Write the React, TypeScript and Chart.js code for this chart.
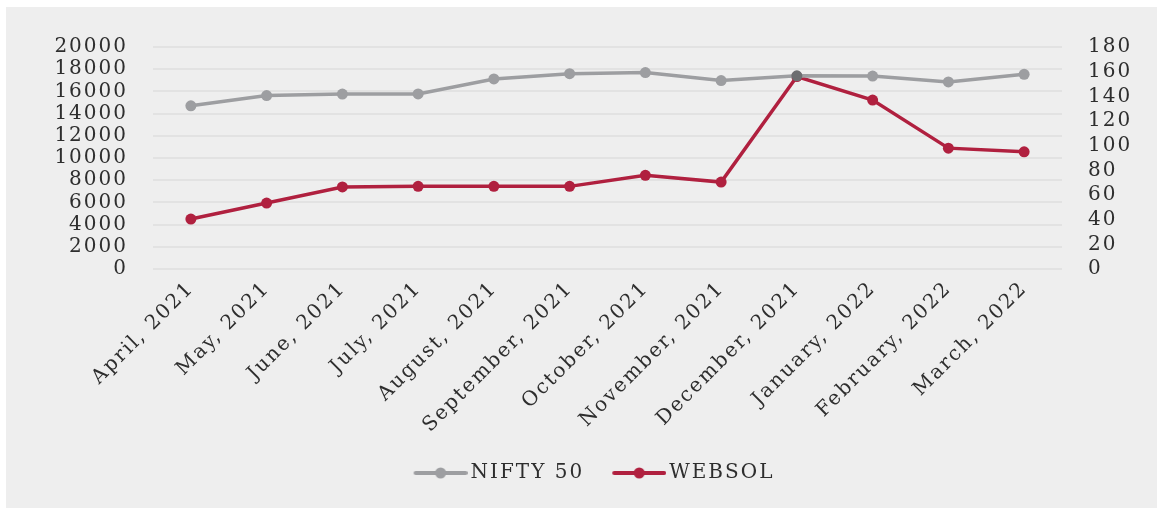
import React, { useEffect, useRef } from 'react';
import { Chart, registerables } from 'chart.js';

Chart.register(...registerables);

const categories = [
  'April, 2021', 'May, 2021', 'June, 2021', 'July, 2021', 'August, 2021', 'September, 2021',
  'October, 2021', 'November, 2021', 'December, 2021', 'January, 2022', 'February, 2022', 'March, 2022',
];
const niftyValues = [14700, 15620, 15760, 15770, 17120, 17600, 17700, 16980, 17400, 17380, 16850, 17540];
const websolValues = [40.5, 53.5, 66.5, 67, 67, 67, 76, 70.5, 156, 137, 98, 95];
const leftTickRange = [0, 20000, 2000];
const rightTickRange = [0, 180, 20];

const GRAY = '#9d9ea1';
const GRAY_DARK = '#6d6e71';
const RED = '#b0203f';
const TEXT = '#2e2e2e';
const FONT = "'DejaVu Serif', serif";

function legendImage(color: string): HTMLCanvasElement {
  const c = document.createElement('canvas');
  c.width = 66;
  c.height = 12;
  const g = c.getContext('2d')!;
  g.strokeStyle = color;
  g.lineWidth = 4;
  g.lineCap = 'round';
  g.beginPath();
  g.moveTo(14, 6);
  g.lineTo(64, 6);
  g.stroke();
  g.fillStyle = color;
  g.beginPath();
  g.arc(39, 6, 5.5, 0, Math.PI * 2);
  g.fill();
  return c;
}

const spacingPlugin = {
  id: 'letterSpacing',
  beforeLayout(chart: any) { (chart.ctx as any).letterSpacing = '2px'; },
  beforeDraw(chart: any) { (chart.ctx as any).letterSpacing = '2px'; },
};

export default function App() {
  const ref = useRef<HTMLCanvasElement | null>(null);
  useEffect(() => {
    if (!ref.current) return;
    const imgs = [legendImage(GRAY), legendImage(RED)];
    const chart = new Chart(ref.current, {
      type: 'line',
      data: {
        labels: categories,
        datasets: [
          {
            label: 'NIFTY 50',
            data: niftyValues,
            yAxisID: 'y',
            borderColor: GRAY,
            backgroundColor: GRAY,
            pointBackgroundColor: niftyValues.map((_, i) => (i === 8 ? GRAY_DARK : GRAY)),
            pointBorderColor: niftyValues.map((_, i) => (i === 8 ? GRAY_DARK : GRAY)),
            borderWidth: 3.5,
            pointRadius: 5.5,
            pointBorderWidth: 0,
            tension: 0,
          },
          {
            label: 'WEBSOL',
            data: websolValues,
            yAxisID: 'y1',
            borderColor: RED,
            backgroundColor: RED,
            pointBackgroundColor: RED,
            pointBorderColor: RED,
            borderWidth: 3.5,
            pointRadius: 5.5,
            pointBorderWidth: 0,
            tension: 0,
          },
        ],
      },
      options: {
        animation: false,
        responsive: true,
        maintainAspectRatio: false,
        layout: { padding: { top: 40, bottom: 15, left: 20, right: 0 } },
        scales: {
          x: {
            offset: true,
            grid: { display: false, drawTicks: false },
            border: { display: false },
            ticks: {
              color: TEXT,
              font: { family: FONT, size: 20 },
              minRotation: 45,
              maxRotation: 45,
              padding: 8,
              autoSkip: false,
            },
            afterFit: (s: any) => { s.height = 171; },
          },
          y: {
            position: 'left',
            min: leftTickRange[0],
            max: leftTickRange[1],
            grid: { color: '#e2e2e2', lineWidth: 2, drawTicks: false },
            border: { display: false },
            ticks: {
              stepSize: leftTickRange[2],
              autoSkip: false,
              color: TEXT,
              font: { family: FONT, size: 20 },
              padding: 25,
              callback: (v: any) => String(v),
            },
            afterFit: (s: any) => { s.width = 127; },
          },
          y1: {
            position: 'right',
            min: rightTickRange[0],
            max: rightTickRange[1],
            grid: { display: false, drawTicks: false },
            border: { display: false },
            ticks: {
              stepSize: rightTickRange[2],
              autoSkip: false,
              color: TEXT,
              font: { family: FONT, size: 20 },
              padding: 26,
              callback: (v: any) => String(v),
            },
            afterFit: (s: any) => { s.width = 95; },
          },
        },
        plugins: {
          tooltip: { enabled: false },
          legend: {
            position: 'bottom',
            labels: {
              usePointStyle: true,
              pointStyleWidth: 52,
              padding: 23,
              color: TEXT,
              font: { family: FONT, size: 20 },
              generateLabels: (ch: any) =>
                ch.data.datasets.map((ds: any, i: number) => ({
                  text: ds.label,
                  pointStyle: imgs[i],
                  fillStyle: ds.borderColor,
                  strokeStyle: ds.borderColor,
                  lineWidth: 0,
                  hidden: false,
                  datasetIndex: i,
                  fontColor: TEXT,
                })),
            },
          },
        },
      },
      plugins: [spacingPlugin],
    } as any);
    return () => chart.destroy();
  }, []);

  return (
    <div
      style={{
        position: 'fixed',
        left: 6,
        top: 7,
        width: 1151,
        height: 501,
        background: '#eeeeee',
      }}
    >
      <canvas ref={ref} />
    </div>
  );
}
